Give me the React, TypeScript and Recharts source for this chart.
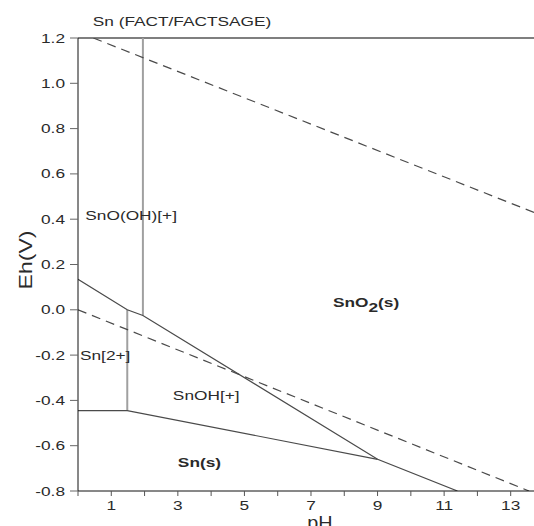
import { ComposedChart, Line, XAxis, YAxis, ReferenceLine, ReferenceDot } from 'recharts';

const FONT = '"Liberation Sans", Arial, sans-serif';
const DARK = '#4a4a4a';
const GREY = '#a0a0a0';
// the original text is drawn wide, so every label is stretched horizontally
const STRETCH = 1.33;

// pH ticks (labels only on odd values)
const PH_TICKS = [0, 1, 2, 3, 4, 5, 6, 7, 8, 9, 10, 11, 12, 13];
// Eh ticks (labels only on multiples of 0.2)
const EH_TICKS = [-0.8, -0.7, -0.6, -0.5, -0.4, -0.3, -0.2, -0.1, 0, 0.1, 0.2, 0.3, 0.4, 0.5, 0.6, 0.7, 0.8, 0.9, 1.0, 1.1, 1.2];
const EH_LABELS = ['-0.8', '-0.6', '-0.4', '-0.2', '0.0', '0.2', '0.4', '0.6', '0.8', '1.0', '1.2'];

// boundaries
const snToSnOH = [
  { x: 0, y: -0.445 },
  { x: 1.48, y: -0.445 },
  { x: 9.0, y: -0.66 },
];
const sn2Vertical = [
  { x: 1.48, y: -0.445 },
  { x: 1.48, y: 0.0 },
];
const oxideBoundary = [
  { x: 0, y: 0.135 },
  { x: 1.48, y: 0.0 },
  { x: 1.95, y: -0.025 },
  { x: 9.0, y: -0.66 },
  { x: 11.4, y: -0.8 },
];
const snoohVertical = [
  { x: 1.95, y: -0.025 },
  { x: 1.95, y: 1.2 },
];
const waterUpper = [
  { x: 0.46, y: 1.2 },
  { x: 13.7, y: 0.43 },
];
const waterLower = [
  { x: 0, y: 0.0 },
  { x: 13.55, y: -0.8 },
];

const regionLabels = [
  { x: 0.22, y: 0.418, text: 'SnO(OH)[+]', bold: false },
  { x: 0.06, y: -0.2, text: 'Sn[2+]', bold: false },
  { x: 2.85, y: -0.38, text: 'SnOH[+]', bold: false },
  { x: 3.0, y: -0.675, text: 'Sn(s)', bold: true },
];

function WideText({ x, y, anchor = 'start', size = 13, bold = false, children }: any) {
  return (
    <text
      transform={`translate(${x} ${y}) scale(${STRETCH} 1)`}
      dy="0.35em"
      textAnchor={anchor}
      fontFamily={FONT}
      fontSize={size}
      fontWeight={bold ? 'bold' : 'normal'}
      fill="#2a2a2a"
    >
      {children}
    </text>
  );
}

function XTick({ x, y, payload }: any) {
  const v = payload.value;
  if (v % 2 === 0) return null;
  return (
    <WideText x={x} y={y + 5} anchor="middle">
      {v}
    </WideText>
  );
}

function YTick({ x, y, payload }: any) {
  const label = payload.value.toFixed(1);
  if (!EH_LABELS.includes(label)) return null;
  return (
    <WideText x={x} y={y} anchor="end">
      {label}
    </WideText>
  );
}

function regionLabel(text: string, bold: boolean) {
  return (props: any) => (
    <WideText x={props.viewBox.x} y={props.viewBox.y} bold={bold}>
      {text}
    </WideText>
  );
}

function sno2Label(props: any) {
  return (
    <WideText x={props.viewBox.x} y={props.viewBox.y} bold>
      SnO
      <tspan dy="5">2</tspan>
      <tspan dy="-5">(s)</tspan>
    </WideText>
  );
}

export default function App() {
  return (
    <div style={{ position: 'absolute', left: 0, top: 0, width: 534, height: 526, background: '#fff' }}>
      <ComposedChart width={534} height={526} margin={{ top: 38, right: 0, bottom: 0, left: 0 }}>
        <XAxis
          type="number"
          dataKey="x"
          domain={[0, 13.7]}
          ticks={PH_TICKS}
          allowDataOverflow
          height={35}
          tickSize={5}
          tickMargin={4}
          tick={<XTick />}
          stroke="#111"
          tickLine={{ stroke: '#555' }}
        />
        <YAxis
          type="number"
          dataKey="y"
          domain={[-0.8, 1.2]}
          ticks={EH_TICKS}
          allowDataOverflow
          width={78}
          tickSize={8}
          tickMargin={5}
          tick={<YTick />}
          stroke="#111"
          tickLine={{ stroke: '#666' }}
        />
        <ReferenceLine y={1.2} stroke="#555" strokeWidth={1.3} />
        <Line data={snoohVertical} dataKey="y" stroke={GREY} strokeWidth={2} dot={false} isAnimationActive={false} />
        <Line data={sn2Vertical} dataKey="y" stroke={GREY} strokeWidth={2} dot={false} isAnimationActive={false} />
        <Line data={snToSnOH} dataKey="y" stroke={DARK} strokeWidth={1.2} dot={false} isAnimationActive={false} />
        <Line data={oxideBoundary} dataKey="y" stroke={DARK} strokeWidth={1.2} dot={false} isAnimationActive={false} />
        <Line data={waterUpper} dataKey="y" stroke={DARK} strokeWidth={1.2} strokeDasharray="9 6" dot={false} isAnimationActive={false} />
        <Line data={waterLower} dataKey="y" stroke={DARK} strokeWidth={1.2} strokeDasharray="9 6" dot={false} isAnimationActive={false} />
        {regionLabels.map((l) => (
          <ReferenceDot key={l.text} x={l.x} y={l.y} r={0} stroke="none" label={regionLabel(l.text, l.bold)} />
        ))}
        <ReferenceDot x={7.66} y={0.034} r={0} stroke="none" label={sno2Label} />
        <WideText x={182} y={21} anchor="middle">
          Sn (FACT/FACTSAGE)
        </WideText>
        <text
          transform={`translate(26 260) rotate(-90) scale(1.28 1)`}
          textAnchor="middle"
          dy="0.35em"
          fontFamily={FONT}
          fontSize={18}
          fill="#2a2a2a"
        >
          Eh(V)
        </text>
        <text
          transform={`translate(320 529) scale(1.1 1)`}
          textAnchor="middle"
          fontFamily={FONT}
          fontSize={18}
          fill="#2a2a2a"
        >
          pH
        </text>
      </ComposedChart>
    </div>
  );
}
